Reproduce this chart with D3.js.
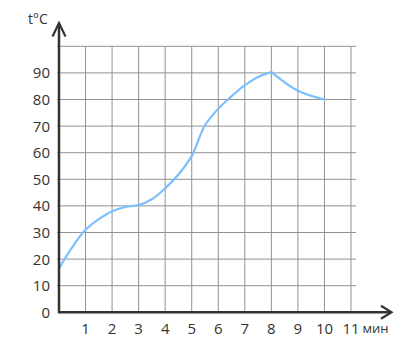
<!DOCTYPE html>
<html>
<head>
<meta charset="utf-8">
<script src="https://cdn.jsdelivr.net/npm/d3@7"></script>
<style>
  html, body { margin: 0; padding: 0; background: #fff; }
  svg { display: block; }
  text { font-family: "Open Sans", "Noto Sans", sans-serif; fill: #333; }
</style>
</head>
<body>
<svg id="chart" width="398" height="348"></svg>
<script>
// Data
const timeMin = [0, 0.5, 1, 1.5, 2, 2.5, 3, 3.5, 4, 4.5, 5, 5.5, 6, 6.5, 7, 7.5, 8, 9, 10];
const tempC   = [16.5, 24.5, 31, 35, 38, 39.6, 40.3, 42.5, 46.6, 51.8, 58.8, 70.3, 76.5, 81.2, 85.4, 88.5, 90.3, 83.3, 80];
const xTicks = [1, 2, 3, 4, 5, 6, 7, 8, 9, 10, 11];
const yTicks = [0, 10, 20, 30, 40, 50, 60, 70, 80, 90];
const xGrid = [1, 2, 3, 4, 5, 6, 7, 8, 9, 10, 11];
const yGrid = [10, 20, 30, 40, 50, 60, 70, 80, 90, 100];
const xUnit = "мин";
const yUnit = "t°C";

const svg = d3.select("#chart");
const x = d3.scaleLinear().domain([0, 11]).range([59, 351]);
const y = d3.scaleLinear().domain([0, 100]).range([312.3, 46.3]);

// grid
const g = svg.append("g");
g.selectAll(".hg").data(yGrid).enter().append("line")
  .attr("x1", x(0) - 2).attr("x2", 356)
  .attr("y1", d => y(d)).attr("y2", d => y(d))
  .attr("stroke", "#929292").attr("stroke-width", 1);
g.selectAll(".vg").data(xGrid).enter().append("line")
  .attr("x1", d => x(d)).attr("x2", d => x(d))
  .attr("y1", y(100)).attr("y2", y(0))
  .attr("stroke", "#929292").attr("stroke-width", 1);

// curve: rising part and falling part (sharp peak)
const peakIdx = tempC.indexOf(d3.max(tempC));
const pts = timeMin.map((t, i) => [t, tempC[i]]);
const line = d3.line().x(d => x(d[0])).y(d => y(d[1])).curve(d3.curveCatmullRom.alpha(0.5));
[pts.slice(0, peakIdx + 1), pts.slice(peakIdx)].forEach(seg => {
  svg.append("path").attr("d", line(seg))
    .attr("fill", "none").attr("stroke", "#7cbfff").attr("stroke-width", 2.2)
    .attr("stroke-linejoin", "round").attr("stroke-linecap", "round");
});

// axes
const axisColor = "#333";
svg.append("line").attr("x1", x(0)).attr("x2", 391).attr("y1", y(0)).attr("y2", y(0))
  .attr("stroke", axisColor).attr("stroke-width", 2.5);
svg.append("line").attr("x1", x(0)).attr("x2", x(0)).attr("y1", y(0) + 1).attr("y2", 24)
  .attr("stroke", axisColor).attr("stroke-width", 2.5);
// arrowheads
svg.append("path").attr("d", `M${381},${y(0) - 6.5} L${391.5},${y(0)} L${381},${y(0) + 6.5}`)
  .attr("fill", "none").attr("stroke", axisColor).attr("stroke-width", 2.2);
svg.append("path").attr("d", `M${x(0) - 6.5},36.5 L${x(0)},23 L${x(0) + 6.5},36.5`)
  .attr("fill", "none").attr("stroke", axisColor).attr("stroke-width", 2.2);

// tick labels
svg.selectAll(".yl").data(yTicks).enter().append("text")
  .attr("x", 50).attr("y", d => y(d)).attr("dy", "0.36em")
  .attr("text-anchor", "end").attr("font-size", 15).text(d => d);
svg.selectAll(".xl").data(xTicks).enter().append("text")
  .attr("x", d => x(d)).attr("y", 333.5)
  .attr("text-anchor", "middle").attr("font-size", 15).text(d => d);

// unit labels
svg.append("text").attr("x", 362.5).attr("y", 332.5).attr("font-size", 13).text(xUnit);
svg.append("text").attr("x", 28).attr("y", 24).attr("font-size", 14).text(yUnit);
</script>
</body>
</html>
